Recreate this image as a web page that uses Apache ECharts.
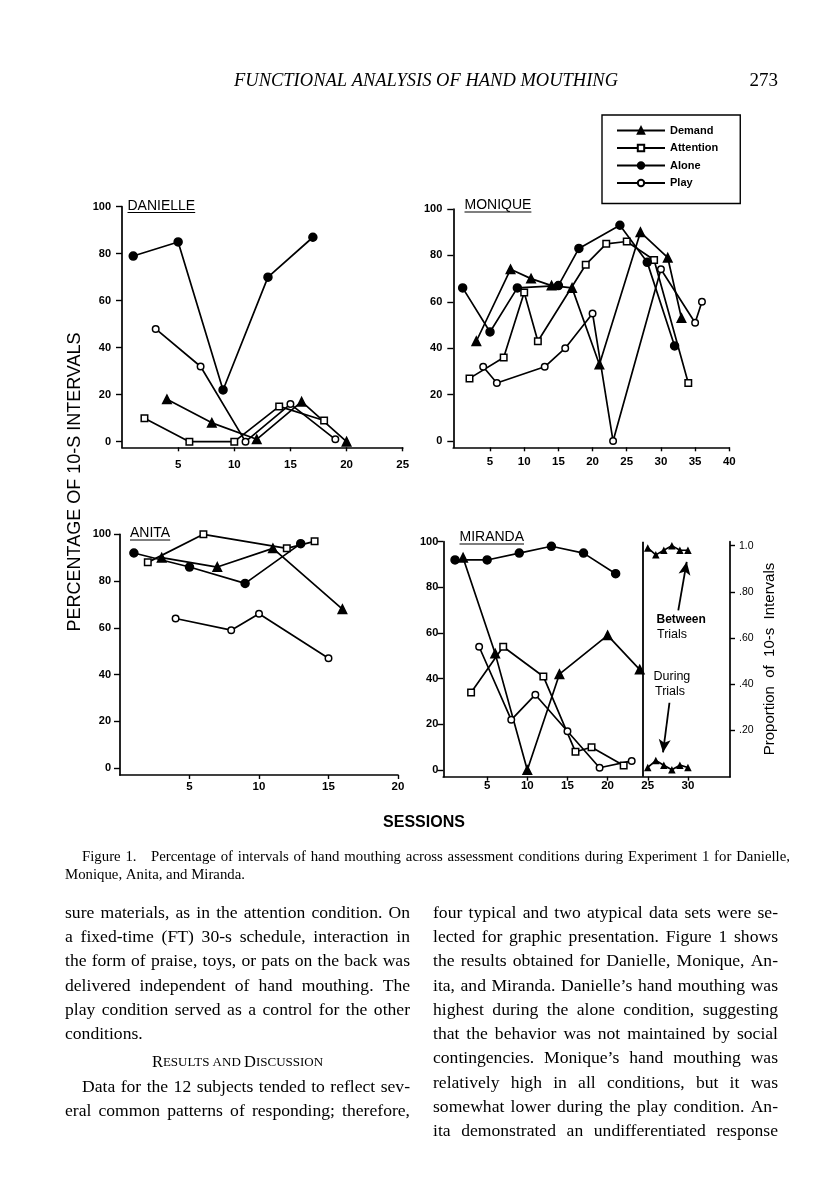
<!DOCTYPE html>
<html><head><meta charset="utf-8">
<script src="https://cdn.jsdelivr.net/npm/echarts@6/dist/echarts.min.js"></script>
<style>html,body{margin:0;padding:0;background:#fff}#c{width:816px;height:1200px}</style>
</head><body><div id="c"></div>
<script>
// ---------------- DATA (session, percentage) ----------------
const conditionNames = ['Demand', 'Attention', 'Alone', 'Play'];

const danielleDemand    = [[4,18],[8,8],[12,1],[16,17],[20,0]];
const danielleAttention = [[2,10],[6,0],[10,0],[14,15],[18,9]];
const danielleAlone     = [[1,79],[5,85],[9,22],[13,70],[17,87]];
const daniellePlay      = [[3,48],[7,32],[11,0],[15,16],[19,1]];

const moniqueDemand    = [[3,43],[8,74],[11,70],[14,67],[17,66],[21,33],[27,90],[31,79],[33,53]];
const moniqueAttention = [[2,27],[7,36],[10,64],[12,43],[19,76],[22,85],[25,86],[29,78],[34,25]];
const moniqueAlone     = [[1,66],[5,47],[9,66],[15,67],[18,83],[24,93],[28,77],[32,41]];
const moniquePlay      = [[4,32],[6,25],[13,32],[16,40],[20,55],[23,0],[30,74],[35,51],[36,60]];

const anitaDemand    = [[3,90],[7,86],[11,94],[16,68]];
const anitaAttention = [[2,88],[6,100],[12,94],[14,97]];
const anitaAlone     = [[1,92],[5,86],[9,79],[13,96]];
const anitaPlay      = [[4,64],[8,59],[10,66],[15,47]];

const mirandaDemand    = [[2,93],[6,51],[10,0],[14,42],[20,59],[24,44]];
const mirandaAttention = [[3,34],[7,54],[12,41],[16,8],[18,10],[22,2]];
const mirandaAlone     = [[1,92],[5,92],[9,95],[13,98],[17,95],[21,86]];
const mirandaPlay      = [[4,54],[8,22],[11,33],[15,17],[19,1],[23,4]];
// proportion of 10-s intervals (right axis)
const mirandaBetweenTrials = [[25,0.99],[26,0.96],[27,0.98],[28,1.0],[29,0.98],[30,0.98]];
const mirandaDuringTrials  = [[25,0.04],[26,0.07],[27,0.05],[28,0.03],[29,0.05],[30,0.04]];
const mirandaPhaseChange = 24.35;

// tick labels
const percentTicks    = [0,20,40,60,80,100];
const proportionTicks = [0.2,0.4,0.6,0.8,1.0];
const danielleXTicks  = [5,10,15,20,25];
const moniqueXTicks   = [5,10,15,20,25,30,35,40];
const anitaXTicks     = [5,10,15,20];
const mirandaXTicks   = [5,10,15,20,25,30];

// ---------------- TEXT ----------------
const headerText = 'FUNCTIONAL ANALYSIS OF HAND MOUTHING';
const pageNumber = '273';
const yAxisTitle = 'PERCENTAGE OF 10-S INTERVALS';
const xAxisTitle = 'SESSIONS';
const rightAxisTitle = 'Proportion  of  10-s  Intervals';
const captionLines = [
  'Figure 1.   Percentage of intervals of hand mouthing across assessment conditions during Experiment 1 for Danielle,',
  'Monique, Anita, and Miranda.'
];
const leftColumnLines = [
  'sure materials, as in the attention condition. On',
  'a fixed-time (FT) 30-s schedule, interaction in',
  'the form of praise, toys, or pats on the back was',
  'delivered independent of hand mouthing. The',
  'play condition served as a control for the other',
  'conditions.'
];
const leftColumnLines2 = [
  'Data for the 12 subjects tended to reflect sev-',
  'eral common patterns of responding; therefore,'
];
const rightColumnLines = [
  'four typical and two atypical data sets were se-',
  'lected for graphic presentation. Figure 1 shows',
  'the results obtained for Danielle, Monique, An-',
  'ita, and Miranda. Danielle\u2019s hand mouthing was',
  'highest during the alone condition, suggesting',
  'that the behavior was not maintained by social',
  'contingencies. Monique\u2019s hand mouthing was',
  'relatively high in all conditions, but it was',
  'somewhat lower during the play condition. An-',
  'ita demonstrated an undifferentiated response'
];

// ---------------- STYLE ----------------
const SANS = 'Liberation Sans, Arial, sans-serif';
const SERIF = 'Liberation Serif, Times New Roman, serif';
const markerStyle = {
  Demand:    {symbol: 'triangle', size: 8.5, fill: '#000'},
  Attention: {symbol: 'rect',     size: 6.5, fill: '#fff'},
  Alone:     {symbol: 'circle',   size: 8,   fill: '#000'},
  Play:      {symbol: 'circle',   size: 6.5, fill: '#fff'}
};

const grids = [
  {left: 122,   top: 206.7, width: 280.7, height: 240.6}, // Danielle
  {left: 453.3, top: 209,   width: 276,   height: 238.3}, // Monique
  {left: 120,   top: 534.3, width: 278,   height: 240.7}, // Anita
  {left: 443.3, top: 541.7, width: 286.7, height: 235}    // Miranda
];

function xAxisCfg(gi, min, max, ticks, margin) {
  return {
    type: 'value', gridIndex: gi, min: min, max: max,
    axisLine: {show: true, onZero: false, lineStyle: {color: '#000', width: 1.7}},
    axisTick: {show: true, inside: false, length: 4, customValues: ticks, lineStyle: {color: '#000', width: 1.4}},
    axisLabel: {show: true, customValues: ticks, margin: margin, color: '#000',
      fontFamily: SANS, fontWeight: 'bold', fontSize: 11.5},
    splitLine: {show: false}
  };
}
function yAxisCfg(gi, min, margin) {
  return {
    type: 'value', gridIndex: gi, min: min, max: 100,
    axisLine: {show: true, onZero: false, lineStyle: {color: '#000', width: 1.7}},
    axisTick: {show: true, inside: false, length: 6, customValues: percentTicks, lineStyle: {color: '#000', width: 1.4}},
    axisLabel: {show: true, customValues: percentTicks, margin: margin, color: '#000',
      fontFamily: SANS, fontWeight: 'bold', fontSize: 11},
    splitLine: {show: false}
  };
}

function mk(name, data, idx) {
  const s = markerStyle[name];
  return {
    type: 'line', name: name, data: data, xAxisIndex: idx, yAxisIndex: idx,
    symbol: s.symbol, symbolSize: s.size, showSymbol: true, clip: false,
    itemStyle: {color: s.fill, borderColor: '#000', borderWidth: 1.5},
    lineStyle: {color: '#000', width: 1.7},
    emphasis: {disabled: true}, animation: false
  };
}

const panels = [
  [danielleDemand, danielleAttention, danielleAlone, daniellePlay],
  [moniqueDemand, moniqueAttention, moniqueAlone, moniquePlay],
  [anitaDemand, anitaAttention, anitaAlone, anitaPlay],
  [mirandaDemand, mirandaAttention, mirandaAlone, mirandaPlay]
];

const series = [];
panels.forEach((p, i) => {
  p.forEach((d, k) => series.push(mk(conditionNames[k], d, i)));
});
// phase-change line in Miranda's panel
series[series.length - 4].markLine = {
  silent: true, symbol: 'none', label: {show: false},
  lineStyle: {type: 'solid', color: '#000', width: 1.8},
  data: [[{coord: [mirandaPhaseChange, -2.9]}, {coord: [mirandaPhaseChange, 100]}]]
};
const betweenArrow = [[28.8, 0.72], [29.85, 0.93]];
const duringArrow  = [[27.7, 0.32], [26.9, 0.105]];
function trialSeries(name, data, arrow) {
  return {
    type: 'line', name: name, data: data, xAxisIndex: 3, yAxisIndex: 4,
    symbol: 'triangle', symbolSize: 7.5, clip: false,
    itemStyle: {color: '#000'}, lineStyle: {color: '#000', width: 1.7},
    emphasis: {disabled: true},
    markLine: {
      silent: true, symbol: ['none', 'arrow'], symbolSize: [9, 13], label: {show: false},
      lineStyle: {type: 'solid', color: '#000', width: 1.8},
      data: [[{coord: arrow[0]}, {coord: arrow[1]}]]
    }
  };
}
series.push(trialSeries('Between Trials', mirandaBetweenTrials, betweenArrow));
series.push(trialSeries('During Trials', mirandaDuringTrials, duringArrow));

// ---------------- GRAPHIC TEXT ----------------
const mctx = document.createElement('canvas').getContext('2d');
function textW(str, font) { mctx.font = font; return mctx.measureText(str).width; }

const graphics = [];
function txt(str, x, y, font, align, extra) {
  graphics.push(Object.assign({type: 'text', x: x, y: y, silent: true,
    style: {text: str, font: font, fill: '#000', textAlign: align || 'left', textVerticalAlign: 'middle'}}, extra || {}));
}
// justified line: spaces rendered as rich tokens with a computed width
function justified(str, x, y, width, fontSize, family) {
  const font = fontSize + 'px ' + family;
  const words = str.split(' ');
  const sum = words.reduce((a, w) => a + textW(w, font), 0);
  const gap = words.length > 1 ? Math.max(2, (width - sum) / (words.length - 1)) : 0;
  graphics.push({type: 'text', x: x, y: y, silent: true, style: {
    text: words.join('{sp| }'), fill: '#000', fontSize: fontSize, fontFamily: family,
    textAlign: 'left', textVerticalAlign: 'middle',
    rich: {sp: {width: gap, fontSize: fontSize, fontFamily: family}}}});
}

const titleFont = '14px ' + SANS;
[['DANIELLE', 127.5, 206], ['MONIQUE', 464.5, 205.5], ['ANITA', 130, 533.5], ['MIRANDA', 459.5, 537.5]].forEach(t => {
  txt(t[0], t[1], t[2], titleFont);
  const w = textW(t[0], titleFont);
  graphics.push({type: 'line', silent: true, shape: {x1: t[1], y1: t[2] + 6.5, x2: t[1] + w, y2: t[2] + 6.5},
    style: {stroke: '#000', lineWidth: 1.2}});
});

txt(headerText, 426, 81, 'italic 18.5px ' + SERIF, 'center');
txt(pageNumber, 778, 81, '19px ' + SERIF, 'right');
txt(yAxisTitle, 75, 482, '18px ' + SANS, 'center', {rotation: Math.PI / 2});
txt(xAxisTitle, 424, 823, 'bold 16px ' + SANS, 'center');
txt(rightAxisTitle, 770, 659, '15px ' + SANS, 'center', {rotation: Math.PI / 2});
txt('Between', 656.5, 620, 'bold 12px ' + SANS);
txt('Trials', 657, 634.5, '12.5px ' + SANS);
txt('During', 653.5, 677, '12.5px ' + SANS);
txt('Trials', 655, 691.5, '12.5px ' + SANS);

justified(captionLines[0], 82, 857, 708, 14.8, SERIF);
txt(captionLines[1], 65, 875, '14.8px ' + SERIF);

const BODY = 17.6;
const bodyFont = BODY + 'px ' + SERIF;
leftColumnLines.forEach((l, i) => {
  if (i < leftColumnLines.length - 1) justified(l, 65, 913 + i * 24.3, 345, BODY, SERIF);
  else txt(l, 65, 913 + i * 24.3, bodyFont);
});
graphics.push({type: 'text', x: 237.5, y: 1063, silent: true, style: {
  text: '{a|R}{b|ESULTS AND }{a|D}{b|ISCUSSION}', textAlign: 'center', textVerticalAlign: 'middle', fill: '#000',
  rich: {a: {fontFamily: SERIF, fontSize: 16.5, fill: '#000'}, b: {fontFamily: SERIF, fontSize: 13, fill: '#000'}}}});
justified(leftColumnLines2[0], 82, 1087, 328, BODY, SERIF);
justified(leftColumnLines2[1], 65, 1111.3, 345, BODY, SERIF);
rightColumnLines.forEach((l, i) => justified(l, 433, 913 + i * 24.3, 345, BODY, SERIF));

// ---------------- OPTION ----------------
const option = {
  animation: false,
  backgroundColor: '#fff',
  grid: grids.map(g => Object.assign({outerBoundsMode: 'none', containLabel: false}, g)),
  legend: {
    data: conditionNames, orient: 'vertical', left: 602, top: 115,
    itemWidth: 48, itemHeight: 8, itemGap: 6.5,
    padding: [10, 22, 15, 14],
    borderColor: '#000', borderWidth: 1.4, backgroundColor: '#fff',
    textStyle: {color: '#000', fontFamily: SANS, fontWeight: 'bold', fontSize: 11},
    selectedMode: false
  },
  xAxis: [
    xAxisCfg(0, 0, 25, danielleXTicks, 12),
    xAxisCfg(1, -0.37, 40, moniqueXTicks, 9),
    xAxisCfg(2, 0, 20, anitaXTicks, 6),
    xAxisCfg(3, -0.46, 35.24, mirandaXTicks, 3)
  ],
  yAxis: [
    yAxisCfg(0, -2.4, 11),
    yAxisCfg(1, -2.7, 11),
    yAxisCfg(2, -2.9, 9),
    yAxisCfg(3, -2.9, 5),
    {
      type: 'value', gridIndex: 3, position: 'right', min: 0, max: 1.017,
      axisLine: {show: true, onZero: false, lineStyle: {color: '#000', width: 1.7}},
      axisTick: {show: true, inside: false, length: 5, customValues: proportionTicks, lineStyle: {color: '#000', width: 1.4}},
      axisLabel: {show: true, customValues: proportionTicks, margin: 9, color: '#000', fontFamily: SANS, fontSize: 10.5,
        formatter: v => v >= 0.999 ? '1.0' : '.' + Math.round(v * 100)},
      splitLine: {show: false}
    }
  ],
  series: series,
  graphic: graphics
};

const chart = echarts.init(document.getElementById('c'), null, {renderer: 'canvas', width: 816, height: 1200});
chart.setOption(option);
</script></body></html>
